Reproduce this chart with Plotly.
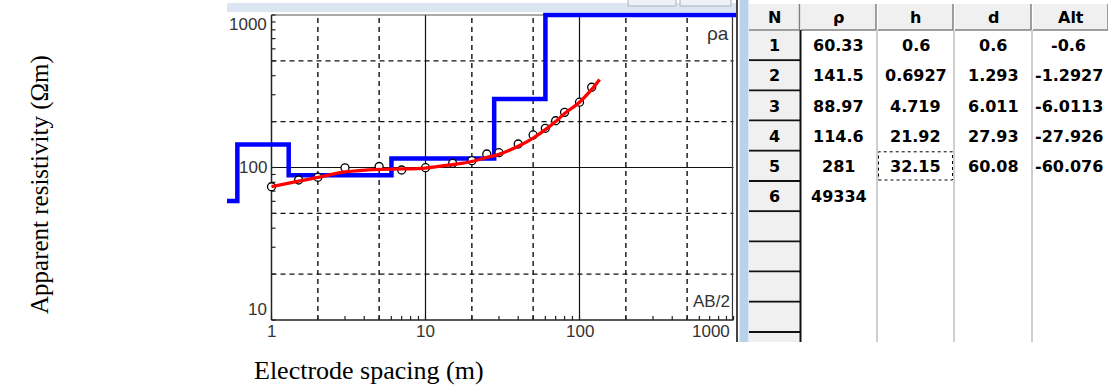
import numpy as np
import plotly.graph_objects as go

# ---------------- data ----------------
# layered model (table values)
layer_n = ["1", "2", "3", "4", "5", "6"]
layer_rho = [60.33, 141.5, 88.97, 114.6, 281, 49334]
layer_h = [0.6, 0.6927, 4.719, 21.92, 32.15]
layer_d = [0.6, 1.293, 6.011, 27.93, 60.08]
layer_alt = [-0.6, -1.2927, -6.0113, -27.926, -60.076]

rho_txt = ["60.33", "141.5", "88.97", "114.6", "281", "49334"]
h_txt = ["0.6", "0.6927", "4.719", "21.92", "32.15", ""]
d_txt = ["0.6", "1.293", "6.011", "27.93", "60.08", ""]
alt_txt = ["-0.6", "-1.2927", "-6.0113", "-27.926", "-60.076", ""]
headers = ["N", "ρ", "h", "d", "Alt"]

# observed apparent resistivity (AB/2, rho_a)
ab2_obs = [1, 1.5, 2, 3, 5, 7, 10, 15, 20, 25, 30, 40, 50, 60, 70, 80, 100, 120]
rho_obs = [74.8, 82.8, 86.3, 99.5, 101.5, 96.3, 99.7, 106.5, 110.8, 122.6, 125,
           142.6, 163.5, 180.7, 202.6, 230, 268, 336]

# fitted model response curve
ab2_fit = [1, 1.5, 2, 3, 5, 7, 10, 15, 20, 25, 30, 40, 50, 60, 70, 80, 100, 120, 135]
rho_fit = [75, 81.5, 86, 93.5, 97.3, 97.8, 99.2, 104.5, 109.5, 116.5, 122, 138, 156,
           177, 200, 226, 268, 325, 378]

x_ticks_major = [1, 10, 100, 1000]
y_ticks_major = [10, 100, 1000]
grid_dashed_x = [2, 5, 20, 50, 200, 500]
grid_solid_x = [10, 100]
grid_dashed_y = [20, 50, 200, 500]
grid_solid_y = [100]

# ---------------- geometry helpers ----------------
W_FIG, H_FIG = 1108, 390
L, R, T, B = 227, 737, 12, 320
X1PX, XDEC = 271.5, 154.0      # pixel of AB/2=1, pixels per decade
YDEC = 152.5
xr = [(L - X1PX) / XDEC, (R - X1PX) / XDEC]
yr = [1.0, 1.0 + (B - T) / YDEC]


def px(x):
    return (x - L) / (R - L)


def py(y):
    return (B - y) / (B - T)


def xv(v):  # data value on x axis -> paper fraction
    return px(X1PX + XDEC * np.log10(v))


def yv(v):  # data value on y axis -> paper fraction
    return py(B - YDEC * (np.log10(v) - 1.0))


fig = go.Figure()

# blue layered model (display clamped to the top of the chart like the software)
x_left, x_right = 10 ** (xr[0] - 0.1), 10 ** (xr[1] + 0.1)
x_blue = [x_left] + layer_d + [x_right]
rho_disp = [min(r, 1000) for r in layer_rho]
y_blue = rho_disp + [rho_disp[-1]]
fig.add_trace(go.Scatter(x=x_blue, y=y_blue, mode="lines", line_shape="hv",
                         line=dict(color="#0000FF", width=4.5), hoverinfo="skip"))
fig.add_trace(go.Scatter(x=ab2_obs, y=rho_obs, mode="markers",
                         marker=dict(symbol="circle", size=8, color="white",
                                     line=dict(color="black", width=1.3)),
                         hoverinfo="skip"))
fig.add_trace(go.Scatter(x=ab2_fit, y=rho_fit, mode="lines", line_shape="spline",
                         line=dict(color="#FF0000", width=3.3), hoverinfo="skip"))

P = dict(xref="paper", yref="paper")
shapes = []
DASH = dict(color="#111", width=1.4, dash="5px,4px")
SOLID = dict(color="#111", width=1.2)
# grid
for v in grid_dashed_x:
    shapes.append(dict(type="line", **P, x0=xv(v), x1=xv(v), y0=yv(10), y1=yv(1000),
                       line=DASH, layer="below"))
for v in grid_solid_x:
    shapes.append(dict(type="line", **P, x0=xv(v), x1=xv(v), y0=yv(10), y1=yv(1000),
                       line=SOLID, layer="below"))
for v in grid_dashed_y:
    shapes.append(dict(type="line", **P, x0=xv(1), x1=xv(1000), y0=yv(v), y1=yv(v),
                       line=DASH, layer="below"))
for v in grid_solid_y:
    shapes.append(dict(type="line", **P, x0=xv(1), x1=xv(1000), y0=yv(v), y1=yv(v),
                       line=SOLID, layer="below"))
# frame
shapes.append(dict(type="line", **P, x0=xv(1), x1=xv(1000), y0=yv(10), y1=yv(10),
                   line=dict(color="#222", width=1.5), layer="below"))
shapes.append(dict(type="line", **P, x0=xv(1), x1=xv(1), y0=yv(10), y1=yv(1000),
                   line=dict(color="#222", width=1.5), layer="below"))
shapes.append(dict(type="line", **P, x0=xv(1), x1=xv(1000), y0=yv(1000), y1=yv(1000),
                   line=dict(color="#555", width=1), layer="below"))
shapes.append(dict(type="line", **P, x0=xv(1000) - 0.002, x1=xv(1000) - 0.002, y0=yv(10),
                   y1=yv(1000), line=dict(color="#333", width=1.2), layer="below"))
# ticks (4 px, inward)
TL = 4
minor_x = [m * d for d in [1, 10, 100] for m in range(1, 10)] + [1000]
for v in minor_x:
    shapes.append(dict(type="line", **P, x0=xv(v), x1=xv(v), y0=py(B), y1=py(B - TL),
                       line=dict(color="#222", width=1.2), layer="below"))
minor_y = [m * d for d in [10, 100] for m in range(1, 10)] + [1000]
for v in minor_y:
    shapes.append(dict(type="line", **P, x0=px(X1PX), x1=px(X1PX + TL), y0=yv(v), y1=yv(v),
                       line=dict(color="#222", width=1.2), layer="below"))

# window chrome
shapes.append(dict(type="rect", **P, x0=px(227), x1=px(737), y0=py(12), y1=py(3),
                   fillcolor="#DCE6F2", line=dict(width=0)))
for a, b in [(628, 676), (680, 731)]:
    shapes.append(dict(type="rect", **P, x0=px(a), x1=px(b), y0=py(6), y1=py(-3),
                       fillcolor="#EEF2F7", line=dict(color="#A8B0BA", width=1)))
shapes.append(dict(type="line", **P, x0=px(737), x1=px(737), y0=py(342), y1=py(0),
                   line=dict(color="#444", width=2)))
shapes.append(dict(type="rect", **P, x0=px(739.5), x1=px(748.5), y0=py(342), y1=py(0),
                   fillcolor="#BAD1EA", line=dict(width=0)))

# table
cols = [(749, 799.5), (801, 876), (878, 953), (955, 1031), (1033, 1108)]
HEAD_T, HEAD_B = 4, 30
ROW_H = 30.2
TAB_B = 342
for (a, b) in cols:
    shapes.append(dict(type="rect", **P, x0=px(a), x1=px(b), y0=py(HEAD_B), y1=py(HEAD_T),
                       fillcolor="#F0F0F0", line=dict(width=0)))
    shapes.append(dict(type="line", **P, x0=px(b), x1=px(b), y0=py(HEAD_B), y1=py(HEAD_T),
                       line=dict(color="#808080", width=1.5)))
    shapes.append(dict(type="line", **P, x0=px(a), x1=px(b), y0=py(HEAD_B), y1=py(HEAD_B),
                       line=dict(color="#808080", width=1.5)))
# row header buttons
k = 0
while True:
    top = HEAD_B + k * ROW_H
    if top >= TAB_B:
        break
    bot = min(top + ROW_H, TAB_B)
    shapes.append(dict(type="rect", **P, x0=px(749), x1=px(799.5), y0=py(bot), y1=py(top + 1),
                       fillcolor="#F0F0F0", line=dict(width=0)))
    if top + ROW_H <= TAB_B:
        shapes.append(dict(type="line", **P, x0=px(749), x1=px(800), y0=py(bot), y1=py(bot),
                           line=dict(color="#111", width=2)))
    k += 1
shapes.append(dict(type="line", **P, x0=px(800.5), x1=px(800.5), y0=py(TAB_B), y1=py(HEAD_B),
                   line=dict(color="#111", width=2)))
for xs in [877, 954, 1032]:
    shapes.append(dict(type="line", **P, x0=px(xs), x1=px(xs), y0=py(TAB_B), y1=py(HEAD_B),
                       line=dict(color="#CFCFCF", width=2)))
# focus rectangle around the selected cell (row 5, column h)
fr_top = HEAD_B + 4 * ROW_H + 1
shapes.append(dict(type="rect", **P, x0=px(878.5), x1=px(952.5), y0=py(fr_top + ROW_H - 2),
                   y1=py(fr_top), line=dict(color="black", width=1, dash="dot")))

ann = []
tick_font = dict(family="Liberation Sans", size=17, color="#333")
# x tick labels
for v in x_ticks_major[:3]:
    ann.append(dict(**P, x=xv(v), y=py(332), text=str(v), showarrow=False,
                    xanchor="center", yanchor="middle", font=tick_font))
ann.append(dict(**P, x=px(732), y=py(332), text=str(x_ticks_major[3]), showarrow=False,
                xanchor="right", yanchor="middle", font=tick_font))
ylab_py = {1000: 24.5, 100: 167.5, 10: 309}
for v in y_ticks_major:
    ann.append(dict(**P, x=px(269), y=py(ylab_py[v]), text=str(v), showarrow=False,
                    xanchor="right", yanchor="middle", font=tick_font))
ann.append(dict(**P, x=px(731), y=py(33), text="ρa", showarrow=False, xanchor="right",
                yanchor="middle", font=dict(family="Liberation Sans", size=19, color="#333")))
ann.append(dict(**P, x=px(731.5), y=py(301), text="AB/2", showarrow=False, xanchor="right",
                yanchor="middle", font=tick_font))
# axis titles
ann.append(dict(**P, x=px(252), y=py(370), text="Electrode spacing (m)", showarrow=False,
                xanchor="left", yanchor="middle",
                font=dict(family="Liberation Serif", size=26, color="black")))
ann.append(dict(**P, x=px(40), y=py(185), text="Apparent resistivity (Ωm)", showarrow=False,
                xanchor="center", yanchor="middle", textangle=-90,
                font=dict(family="Liberation Serif", size=25, color="black")))

# table text
cell_font = dict(family="DejaVu Sans", size=16, color="black")
for (a, b), h in zip(cols, headers):
    ann.append(dict(**P, x=px((a + b) / 2), y=py(17), text="<b>" + h + "</b>", showarrow=False,
                    xanchor="center", yanchor="middle", font=cell_font))
columns_txt = [layer_n, rho_txt, h_txt, d_txt, alt_txt]
for ci, ((a, b), col) in enumerate(zip(cols, columns_txt)):
    for ri, t in enumerate(col):
        if not t:
            continue
        cy = HEAD_B + (ri + 0.5) * ROW_H + 0.5
        cx = (a + b) / 2 + (-2 if ci == 4 else 0)
        ann.append(dict(**P, x=px(cx), y=py(cy), text="<b>" + t + "</b>", showarrow=False,
                        xanchor="center", yanchor="middle", font=cell_font))

fig.update_layout(
    width=W_FIG, height=H_FIG,
    margin=dict(l=L, r=W_FIG - R, t=T, b=H_FIG - B, pad=0),
    paper_bgcolor="white", plot_bgcolor="rgba(0,0,0,0)",
    showlegend=False,
    xaxis=dict(type="log", range=xr, visible=False, fixedrange=True),
    yaxis=dict(type="log", range=yr, visible=False, fixedrange=True),
    shapes=shapes, annotations=ann,
)
fig.write_html("out.html")
